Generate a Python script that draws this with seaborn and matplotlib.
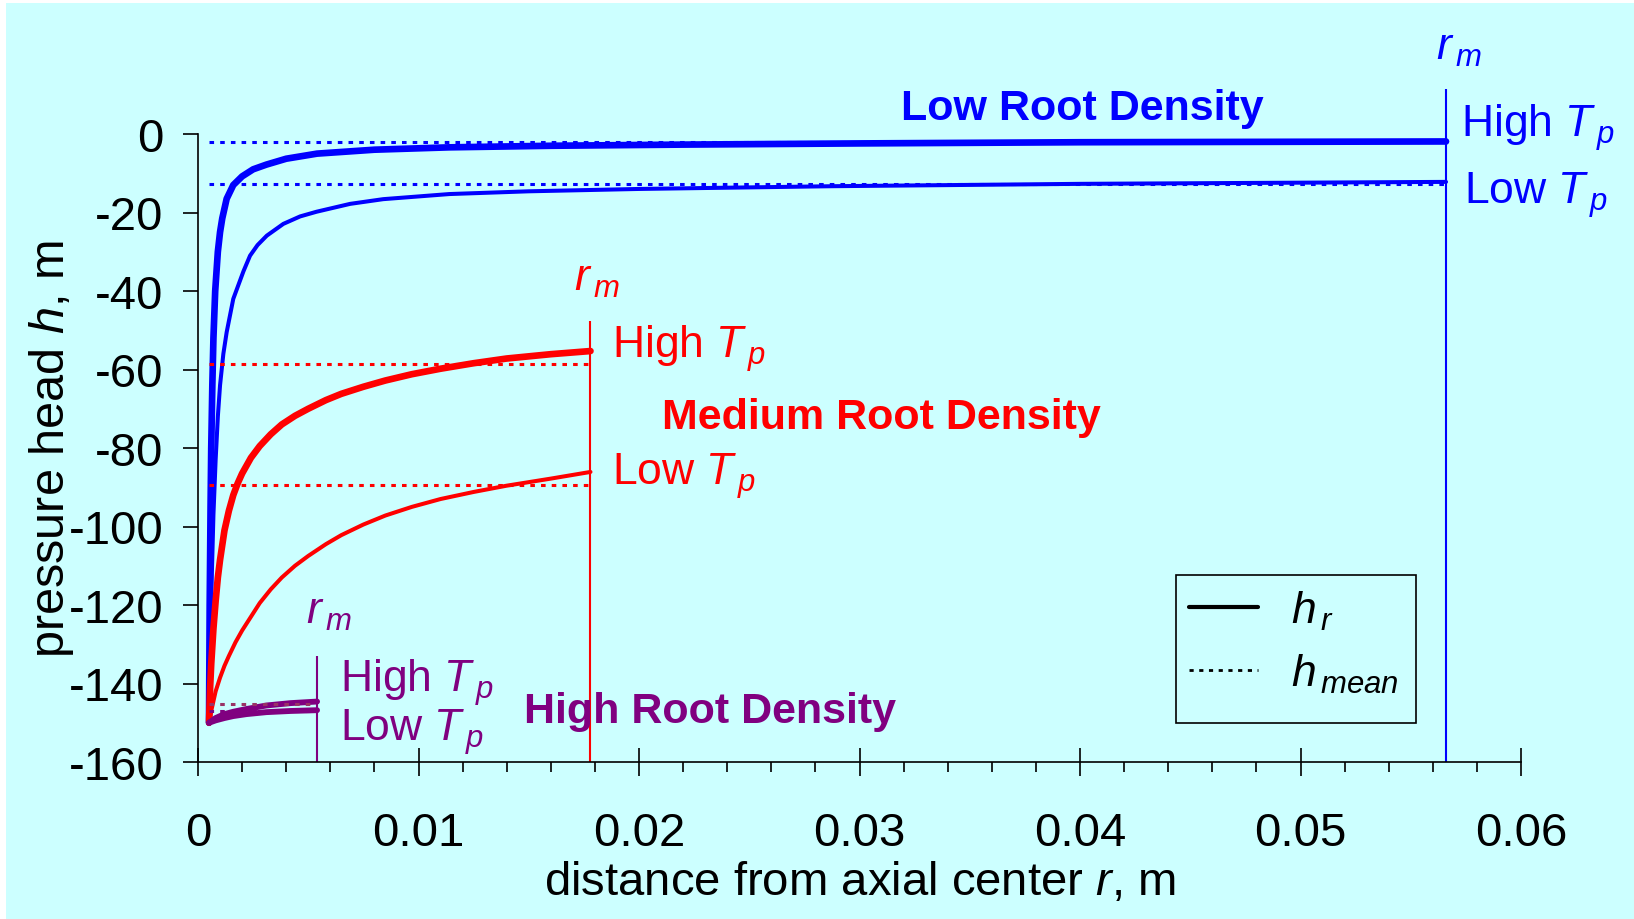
import matplotlib
matplotlib.use('Agg')
import matplotlib.pyplot as plt
import seaborn as sns
from matplotlib.lines import Line2D
from matplotlib.patches import Rectangle
from matplotlib.ticker import MultipleLocator, FuncFormatter

# ---- data ----
# low root density (blue)
low_r_high = [0.0005, 0.00053, 0.00057, 0.0006, 0.00065, 0.0007, 0.00078, 0.0009, 0.001, 0.0011,
              0.0013, 0.0016, 0.002, 0.0025, 0.0031, 0.004, 0.0054, 0.008, 0.0114, 0.016,
              0.022, 0.03, 0.04, 0.0566]
low_h_high = [-150, -120, -95, -80, -64, -52, -40, -30, -25, -21.5,
              -16.5, -13, -10.8, -9, -7.8, -6.3, -5, -4, -3.4, -3,
              -2.7, -2.4, -2.1, -1.9]
low_r_low = [0.0005, 0.00055, 0.0006, 0.0007, 0.0008, 0.0009, 0.001, 0.00115, 0.0013, 0.0016,
             0.00206, 0.00236, 0.0027, 0.00312, 0.00387, 0.00463, 0.00538, 0.0069, 0.0084, 0.0114,
             0.015, 0.02, 0.0288, 0.04, 0.0566]
low_h_low = [-150, -132, -118, -97, -83, -72, -64, -56, -50.5, -42,
             -35, -31, -28.3, -25.9, -22.9, -21, -19.8, -17.8, -16.6, -15.3,
             -14.6, -14, -13.3, -12.7, -12.2]

# medium root density (red)
med_r_high = [0.0005, 0.00055, 0.0006, 0.0007, 0.0008, 0.0009, 0.001, 0.0012, 0.0014, 0.0016,
              0.0018, 0.002, 0.0024, 0.0028, 0.0033, 0.0038, 0.0044, 0.005, 0.0058, 0.0065,
              0.0075, 0.0085, 0.0097, 0.011, 0.0125, 0.014, 0.016, 0.0178]
med_h_high = [-150, -141, -135, -126, -119, -113, -108.5, -101, -96, -92,
              -89, -86.5, -82.5, -79.5, -76.5, -74, -71.8, -70, -67.8, -66.2,
              -64.4, -62.8, -61.2, -59.8, -58.4, -57.2, -56.1, -55.3]
med_r_low = [0.0005, 0.0006, 0.0007, 0.0008, 0.001, 0.0012, 0.0014, 0.0017, 0.002, 0.0024,
             0.0028, 0.0033, 0.0038, 0.0044, 0.005, 0.0058, 0.0065, 0.0075, 0.0085, 0.0097,
             0.011, 0.0125, 0.014, 0.016, 0.0178]
med_h_low = [-150, -147, -144.5, -142, -138.5, -135.5, -133, -129.5, -126.5, -123,
             -119.5, -116, -113, -110, -107.5, -104.5, -102.2, -99.5, -97.2, -95,
             -93, -91.2, -89.6, -87.8, -86.1]

# high root density (purple)
high_r = [0.0005, 0.0008, 0.0012, 0.0016, 0.0022, 0.0031, 0.0042, 0.0054]
high_h_high = [-150, -148.8, -147.8, -147.2, -146.5, -145.6, -145, -144.6]
high_h_low = [-150, -149.4, -148.8, -148.3, -147.8, -147.3, -147, -146.8]

r_root = 0.0005
r_m = {'low': 0.0566, 'med': 0.0178, 'high': 0.0054}
h_mean = {'low': (-2.1, -12.8), 'med': (-58.7, -89.3), 'high': (-145.3, -147.1)}
rm_top = {'low': 11.5, 'med': -47.6, 'high': -133}

x_ticks = [0, 0.01, 0.02, 0.03, 0.04, 0.05, 0.06]
y_ticks = [-160, -140, -120, -100, -80, -60, -40, -20, 0]

BLUE, RED, PURPLE, MAUVE = '#0000FF', '#FF0000', '#800080', '#993366'
BG = '#CCFFFF'

sns.set_style('ticks')
plt.rcParams['font.family'] = ['Liberation Sans', 'DejaVu Sans']
plt.rcParams['mathtext.fontset'] = 'custom'
plt.rcParams['mathtext.rm'] = 'Liberation Sans'
plt.rcParams['mathtext.it'] = 'Liberation Sans:italic'
plt.rcParams['mathtext.bf'] = 'Liberation Sans:bold'
plt.rcParams['axes.unicode_minus'] = False
for k in ['text.color', 'axes.labelcolor', 'xtick.color', 'ytick.color',
          'xtick.labelcolor', 'ytick.labelcolor']:
    plt.rcParams[k] = 'black'

fig = plt.figure(figsize=(16.34, 9.2), dpi=100, facecolor='white')
fig.patches.append(Rectangle((6 / 1634, 0), 1, 1 - 4 / 920, transform=fig.transFigure,
                             facecolor=BG, edgecolor='none', zorder=-10))
ax = fig.add_axes([198 / 1634, 1 - 763 / 920, 1323 / 1634, 745.75 / 920])
ax.set_facecolor('none')

dot = (0, (1.5, 2))
thick, thin = 4.8, 2.9

def curve(x, y, color, lw, ls='-'):
    sns.lineplot(x=x, y=y, ax=ax, color=color, lw=lw, linestyle=ls,
                 sort=False, estimator=None, clip_on=False)

# blue
curve(low_r_high, low_h_high, BLUE, thick)
curve(low_r_low, low_h_low, BLUE, thin)
curve([r_root, r_m['low']], [h_mean['low'][0]] * 2, BLUE, 2.2, dot)
curve([r_root, r_m['low']], [h_mean['low'][1]] * 2, BLUE, 2.2, dot)
# red
curve(med_r_high, med_h_high, RED, thick)
curve(med_r_low, med_h_low, RED, thin)
curve([r_root, r_m['med']], [h_mean['med'][0]] * 2, RED, 2.2, dot)
curve([r_root, r_m['med']], [h_mean['med'][1]] * 2, RED, 2.2, dot)
# purple
curve(high_r, high_h_high, PURPLE, 4.2)
curve(high_r, high_h_low, PURPLE, 4.2)
curve([r_root, r_m['high']], [h_mean['high'][0]] * 2, MAUVE, 2.2, dot)
curve([r_root, r_m['high']], [h_mean['high'][1]] * 2, PURPLE, 2.2, dot)

for key, c in [('low', BLUE), ('med', RED), ('high', PURPLE)]:
    ax.vlines(r_m[key], -160, rm_top[key], color=c, lw=1.5, clip_on=False)

ax.set_xlim(0, 0.06)
ax.set_ylim(-160, 30)
ax.spines['top'].set_visible(False)
ax.spines['right'].set_visible(False)
ax.spines['left'].set_bounds(-160, 0)
ax.spines['bottom'].set_bounds(0, 0.06)
for s in ['left', 'bottom']:
    ax.spines[s].set_linewidth(1.2)
    ax.spines[s].set_color('black')

ax.set_xticks(x_ticks)
ax.xaxis.set_minor_locator(MultipleLocator(0.002))
ax.xaxis.set_major_formatter(FuncFormatter(lambda v, p: '0' if v == 0 else f'{v:g}'))
ax.set_yticks(y_ticks)
ax.tick_params(axis='x', which='major', direction='inout', length=20, width=1.2,
               pad=25, labelsize=34)
ax.tick_params(axis='x', which='minor', direction='out', length=7, width=1.2)
ax.tick_params(axis='y', which='major', direction='out', length=11, width=1.2,
               pad=14, labelsize=34)

ax.set_xlabel('distance from axial center $r$, m', fontsize=34, labelpad=4)
ax.set_ylabel('pressure head $h$, m', fontsize=35)
ax.yaxis.set_label_coords(-0.092, 0.421)

# annotations
fs = 32
sub = dict(fontsize=fs, clip_on=False)
bold = dict(fontsize=31, fontweight='bold', ha='center', va='center')
ax.text(0.0572, 22.0, r'$r_{\,m}$', color=BLUE, ha='center', va='center', **sub)
ax.text(0.0573, 1.9, r'High $T_{\,p}$', color=BLUE, ha='left', va='center', **sub)
ax.text(0.0574, -15.4, r'Low $T_{\,p}$', color=BLUE, ha='left', va='center', **sub)
ax.text(0.0401, 6.6, 'Low Root Density', color=BLUE, **bold)

ax.text(0.0181, -36.7, r'$r_{\,m}$', color=RED, ha='center', va='center', **sub)
ax.text(0.01876, -54.5, r'High $T_{\,p}$', color=RED, ha='left', va='center', **sub)
ax.text(0.01876, -87, r'Low $T_{\,p}$', color=RED, ha='left', va='center', **sub)
ax.text(0.031, -72.2, 'Medium Root Density', color=RED, **bold)

ax.text(0.00595, -121.7, r'$r_{\,m}$', color=PURPLE, ha='center', va='center', **sub)
ax.text(0.00643, -139.5, r'High $T_{\,p}$', color=PURPLE, ha='left', va='center', **sub)
ax.text(0.00643, -152, r'Low $T_{\,p}$', color=PURPLE, ha='left', va='center', **sub)
ax.text(0.02324, -147, 'High Root Density', color=PURPLE, **bold)

# legend
ax.add_patch(Rectangle((0.739, 0.052), 0.182, 0.1985, transform=ax.transAxes,
                       fill=False, edgecolor='black', lw=1.2, clip_on=False))
handles = [Line2D([], [], color='black', lw=3),
           Line2D([], [], color='black', lw=2, linestyle=(0, (1.5, 2)))]
ax.legend(handles, [r'$h_{\,r}$', r'$h_{\,mean}$'], loc='upper left',
          bbox_to_anchor=(0.739, 0.2505), frameon=False, fontsize=32,
          handlelength=1.55, handletextpad=0.75, labelspacing=0.45,
          borderpad=0.3, borderaxespad=0)

fig.savefig('out.png', dpi=100, facecolor='white')
